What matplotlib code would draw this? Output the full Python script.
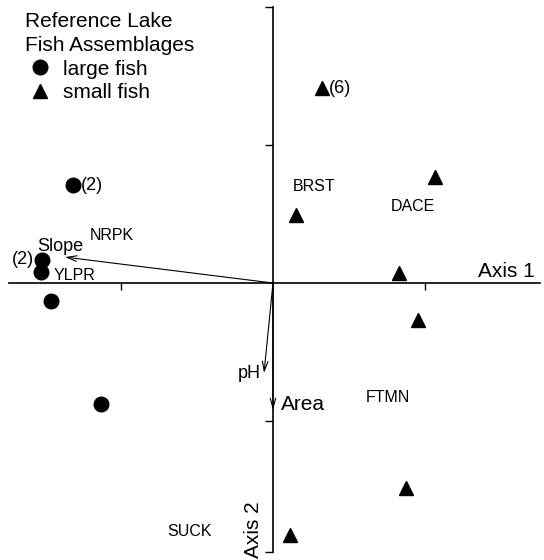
import matplotlib
matplotlib.use('Agg')
import matplotlib.pyplot as plt
from matplotlib.lines import Line2D

plt.rcParams['font.family'] = ['Liberation Sans', 'DejaVu Sans']

# site scores, large-fish lakes (circles)
large_x = [-1.316, -1.520, -1.526, -1.461, -1.132]
large_y = [0.710, 0.167, 0.080, -0.130, -0.877]
large_n = ['(2)', '(2)', '', '', '']

# site scores, small-fish lakes (triangles)
small_x = [0.322, 1.066, 0.151, 0.829, 0.954, 0.875, 0.112]
small_y = [1.413, 0.768, 0.493, 0.072, -0.268, -1.486, -1.826]
small_n = ['(6)', '', '', '', '', '', '']

# species scores
species = ['BRST', 'DACE', 'NRPK', 'FTMN', 'SUCK', 'YLPR']
species_x = [0.270, 0.921, -1.059, 0.757, -0.546, -1.309]
species_y = [0.696, 0.551, 0.341, -0.833, -1.804, 0.051]

# environmental vectors
env = ['Slope', 'pH', 'Area']
env_x = [-1.368, -0.059, 0.0]
env_y = [0.188, -0.652, -0.92]
env_lx = [-1.401, -0.158, 0.197]
env_ly = [0.268, -0.659, -0.877]

fig = plt.figure(figsize=(5.44, 5.60), dpi=100)
ax = fig.add_axes([0, 0, 1, 1])
ax.set_xlim(-1.796, 1.783)
ax.set_ylim(-2.007, 2.051)

# axes crossing at the origin
for s in ('top', 'right'):
    ax.spines[s].set_visible(False)
ax.spines['left'].set_position(('data', 0))
ax.spines['bottom'].set_position(('data', 0))
ax.spines['left'].set_bounds(-1.949, 2.0)
ax.spines['bottom'].set_bounds(-1.737, 1.757)
for s in ('left', 'bottom'):
    ax.spines[s].set_linewidth(1.2)
ax.set_xticks([-1, 1])
ax.set_yticks([-1.949, -1, 1, 2])
ax.tick_params(axis='x', direction='out', length=5, width=1.0, labelbottom=False)
ax.tick_params(axis='y', direction='out', length=6, width=1.0, labelleft=False)
ax.set_facecolor('none')

ax.plot(large_x, large_y, 'o', color='black', ms=10.5, ls='none')
ax.plot(small_x, small_y, '^', color='black', ms=10.5, ls='none')

for x, y, n in zip(large_x, large_y, large_n):
    if not n:
        continue
    if x < -1.4:
        ax.annotate(n, (x, y), xytext=(-6, 0), textcoords='offset points',
                    ha='right', va='center', fontsize=13)
    else:
        ax.annotate(n, (x, y), xytext=(6, 0), textcoords='offset points',
                    ha='left', va='center', fontsize=13)
for x, y, n in zip(small_x, small_y, small_n):
    if n:
        ax.annotate(n, (x, y), xytext=(5, 0), textcoords='offset points',
                    ha='left', va='center', fontsize=13)

for name, x, y in zip(species, species_x, species_y):
    ax.text(x, y, name, ha='center', va='center', fontsize=11.5)

for name, x, y, lx, ly in zip(env, env_x, env_y, env_lx, env_ly):
    ax.annotate('', xy=(x, y), xytext=(0, 0),
                arrowprops=dict(arrowstyle='->,head_length=0.7,head_width=0.2',
                                color='black', lw=0.8, shrinkA=0, shrinkB=0))
    ax.text(lx, ly, name, ha='center', va='center',
            fontsize=15 if name == 'Area' else 13)

ax.text(1.535, 0.087, 'Axis 1', ha='center', va='center', fontsize=15)
ax.text(-0.125, -1.790, 'Axis 2', ha='center', va='center', fontsize=15,
        rotation=90)

handles = [Line2D([], [], marker='o', color='black', ls='none', ms=10.5),
           Line2D([], [], marker='^', color='black', ls='none', ms=10.5)]
leg = ax.legend(handles, ['large fish', 'small fish'],
                title='Reference Lake\nFish Assemblages', title_fontsize=15,
                fontsize=15, frameon=False, alignment='left',
                loc='upper left', bbox_to_anchor=(0.02, 1.005),
                handlelength=1.4, handletextpad=0.4, labelspacing=0.22,
                borderpad=0.2)
leg.get_title().set_linespacing(1.35)

fig.savefig('out.png', dpi=100)
